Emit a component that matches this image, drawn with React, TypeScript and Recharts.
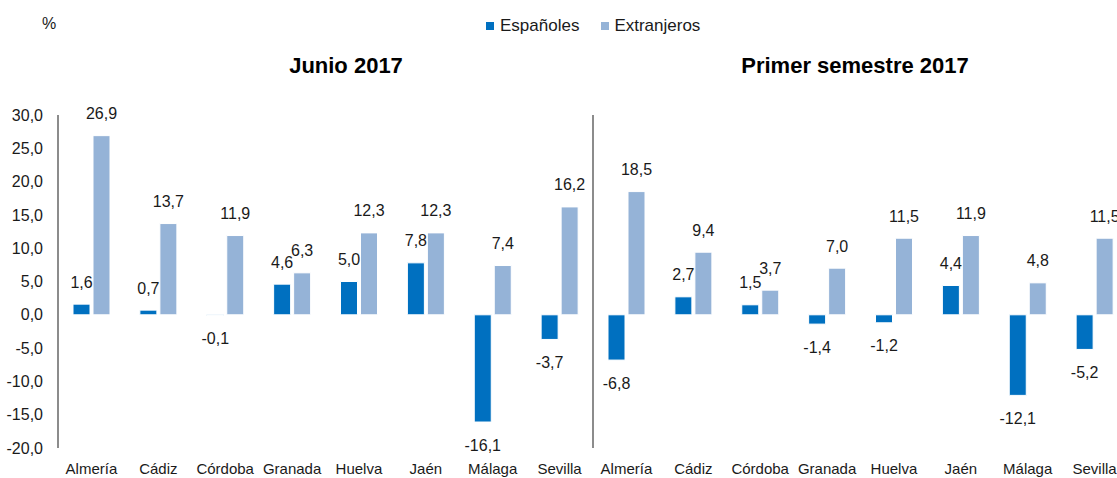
import React from 'react';
import { BarChart, Bar, XAxis, YAxis, ReferenceLine, LabelList } from 'recharts';

// provinces, repeated for each panel
const provincias = ['Almería', 'Cádiz', 'Córdoba', 'Granada', 'Huelva', 'Jaén', 'Málaga', 'Sevilla'];

// Junio 2017
const espJunio = [1.6, 0.7, -0.1, 4.6, 5.0, 7.8, -16.1, -3.7];
const extJunio = [26.9, 13.7, 11.9, 6.3, 12.3, 12.3, 7.4, 16.2];

// Primer semestre 2017
const espSemestre = [-6.8, 2.7, 1.5, -1.4, -1.2, 4.4, -12.1, -5.2];
const extSemestre = [18.5, 9.4, 3.7, 7.0, 11.5, 11.9, 4.8, 11.5];

const yTicks = [-20, -15, -10, -5, 0, 5, 10, 15, 20, 25, 30];

const COLOR_ESP = '#0070C0';
const COLOR_EXT = '#95B3D7';
const FONT = '"Liberation Sans", Arial, sans-serif';

const data = [
  ...provincias.map((p, i) => ({ key: `J-${p}`, name: p, esp: espJunio[i], ext: extJunio[i] })),
  ...provincias.map((p, i) => ({ key: `S-${p}`, name: p, esp: espSemestre[i], ext: extSemestre[i] })),
];

const fmt = (v: number) => v.toFixed(1).replace('.', ',');

const ValueLabel = (props: any) => {
  const { x, y, width, height, value } = props;
  const top = Math.min(y, y + height);
  const bottom = Math.max(y, y + height);
  const cy = value >= 0 ? top - 22 : bottom + 23;
  return (
    <text x={x + width / 2} y={cy} textAnchor="middle" dominantBaseline="central"
      fontSize={16} fill="#1a1a1a" fontFamily={FONT}>
      {fmt(value)}
    </text>
  );
};

const CatTick = (props: any) => {
  const { x, y, payload } = props;
  const name = data.find((d) => d.key === payload.value)?.name ?? '';
  return (
    <text x={x} y={y + 12} textAnchor="middle" dominantBaseline="central"
      fontSize={15} fill="#1a1a1a" fontFamily={FONT}>
      {name}
    </text>
  );
};

export default function App() {
  return (
    <div style={{ position: 'fixed', left: 0, top: 0, width: 1117, height: 478, overflow: 'hidden', background: '#fff', fontFamily: FONT }}>
      <div style={{ position: 'absolute', left: 42, top: 15, fontSize: 16, color: '#1a1a1a' }}>%</div>

      <div style={{ position: 'absolute', left: 486, top: 16, display: 'flex', alignItems: 'center', fontSize: 17, color: '#1a1a1a' }}>
        <span style={{ width: 8, height: 8, background: COLOR_ESP, display: 'inline-block', marginRight: 6 }} />
        <span>Españoles</span>
        <span style={{ width: 8, height: 8, background: COLOR_EXT, display: 'inline-block', marginLeft: 22, marginRight: 5 }} />
        <span>Extranjeros</span>
      </div>

      <div style={{ position: 'absolute', left: 246, width: 200, top: 53, textAlign: 'center', fontSize: 22, fontWeight: 'bold', color: '#000' }}>
        Junio 2017
      </div>
      <div style={{ position: 'absolute', left: 705, width: 300, top: 53, textAlign: 'center', fontSize: 22, fontWeight: 'bold', color: '#000' }}>
        Primer semestre 2017
      </div>

      <div style={{ position: 'absolute', left: 0, top: 0 }}>
        <BarChart width={1135} height={478} data={data}
          margin={{ top: 115, right: 7, bottom: 0, left: 0 }}
          barSize={17} barGap={3}>
          <XAxis dataKey="key" axisLine={false} tickLine={false} interval={0} tick={<CatTick />} height={30} />
          <YAxis type="number" domain={[-20, 30]} ticks={yTicks} width={58}
            tickFormatter={fmt} tickLine={false} tickSize={0} tickMargin={15}
            axisLine={{ stroke: '#8c8c8c', strokeWidth: 2 }}
            tick={{ fontSize: 16, fill: '#1a1a1a', fontFamily: FONT }} />
          <ReferenceLine x="S-Almería" position="start" stroke="#8c8c8c" strokeWidth={2} />
          <Bar dataKey="esp" fill={COLOR_ESP} stroke="#ffffff" strokeWidth={1} isAnimationActive={false}>
            <LabelList dataKey="esp" content={<ValueLabel />} />
          </Bar>
          <Bar dataKey="ext" fill={COLOR_EXT} stroke="#ffffff" strokeWidth={1} isAnimationActive={false}>
            <LabelList dataKey="ext" content={<ValueLabel />} />
          </Bar>
        </BarChart>
      </div>
    </div>
  );
}
